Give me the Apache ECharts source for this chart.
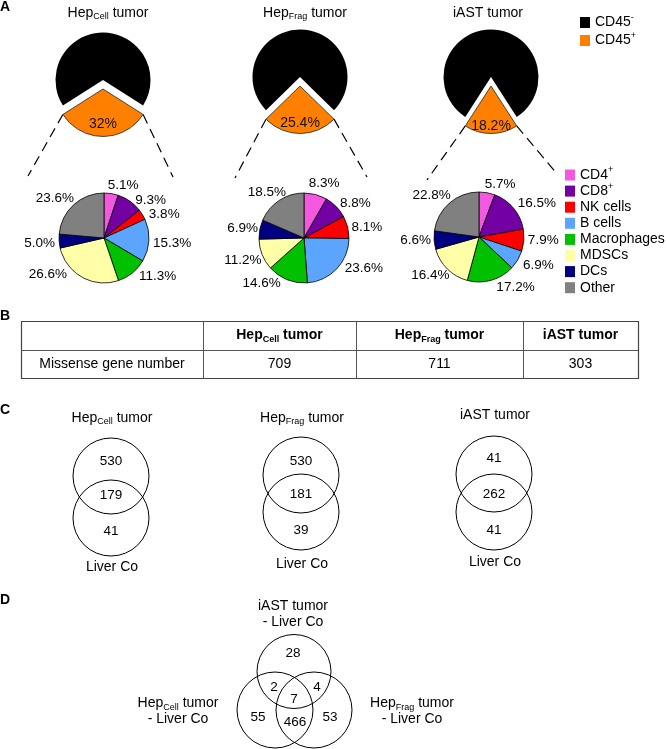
<!DOCTYPE html>
<html>
<head>
<meta charset="utf-8">
<script src="https://cdn.jsdelivr.net/npm/echarts@6.0.0/dist/echarts.min.js"></script>
<style>
html, body { margin: 0; padding: 0; background: #fff; }
#chart { width: 667px; height: 749px; }
</style>
</head>
<body>
<div id="chart"></div>
<script>
// ---- panel A: immune infiltrate (percent)
const cd45Names = ['CD45-', 'CD45+'];
const cd45Neg = [68, 74.6, 81.8];
const cd45Pos = [32, 25.4, 18.2];
const cellTypes = ['CD4+', 'CD8+', 'NK cells', 'B cells', 'Macrophages', 'MDSCs', 'DCs', 'Other'];
const hepCellCells = [5.1, 9.3, 3.8, 15.3, 11.3, 26.6, 5.0, 23.6];
const hepFragCells = [8.3, 8.8, 8.1, 23.6, 14.6, 11.2, 6.9, 18.5];
const iastCells = [5.7, 16.5, 7.9, 6.9, 17.2, 16.4, 6.6, 22.8];
const tumorTitles = ['Hep{sub|Cell} tumor', 'Hep{sub|Frag} tumor', 'iAST tumor'];

// ---- panel B: table
const tableCols = ['Hep{bsub|Cell} tumor', 'Hep{bsub|Frag} tumor', 'iAST tumor'];
const tableRowName = 'Missense gene number';
const missenseCounts = [709, 711, 303];

// ---- panel C: [tumor only, shared, liver co only]
const vennHepCell = [530, 179, 41];
const vennHepFrag = [530, 181, 39];
const vennIast = [41, 262, 41];
const vennCBottom = 'Liver Co';

// ---- panel D: iAST only, iAST&Cell, iAST&Frag, all, Cell only, Cell&Frag, Frag only
const vennDSets = ['iAST tumor\n- Liver Co', 'Hep{sub|Cell} tumor\n- Liver Co', 'Hep{sub|Frag} tumor\n- Liver Co'];
const vennDValues = [28, 2, 4, 7, 55, 466, 53];

// ---- layout / style
const FONT = 'Arial, "Liberation Sans", Helvetica, sans-serif';
const ORANGE = '#FF8000';
const cellColors = ['#F558E0', '#7300A3', '#FF0000', '#5CA5FF', '#00C000', '#FFFFA8', '#000080', '#808080'];
const topCenters = [[103, 80], [300, 77], [491, 77]];
const topR = 47.5, topOffset = 9;
const topLabelDy = [8, 10.5, 13];
const botCenters = [[104, 238], [304, 238], [479, 237]];
const botR = 45;
// small label nudges so the outside labels sit where the original ones do
const labelNudge = [
    [[-5, -4], [2, 2], [2, 2], [-1, 3], [3, 0], [-12, -7], [1, 2], [4, -4]],
    [[-9, -7], [0, -1], [-1, 1], [4, -3], [-4, 0], [4, 4], [3, 0], [10, -5]],
    [[-4, -5], [0, -2], [-1, 0], [1, 3], [3, 3], [6, 3], [2, 0], [5, -5]]
];
const titleX = [108, 305, 488];
const connEnds = [[[28, 176], [173, 177]], [[235, 178], [367, 177]], [[427, 180], [558, 175]]];

const RICH = {
    sub: { fontSize: 9, lineHeight: 14, height: 6, verticalAlign: 'bottom', fontFamily: FONT, fill: '#000' },
    bsub: { fontSize: 9, lineHeight: 14, height: 6, verticalAlign: 'bottom', fontFamily: FONT, fontWeight: 'bold', fill: '#000' }
};
const SUP = { sup: { fontSize: 9, lineHeight: 14, height: 4, verticalAlign: 'top', fontFamily: FONT, color: '#000' } };

function txt(x, y, text, extra) {
    return {
        type: 'text', x: x, y: y, silent: true,
        style: Object.assign({
            text: text, fontSize: 14, lineHeight: 14, fontFamily: FONT, fill: '#000',
            align: 'center', verticalAlign: 'middle', rich: RICH
        }, extra || {})
    };
}
function line(x1, y1, x2, y2, extra) {
    return {
        type: 'line', silent: true,
        shape: { x1: x1, y1: y1, x2: x2, y2: y2 },
        style: Object.assign({ stroke: '#000', lineWidth: 1 }, extra || {})
    };
}
function circle(cx, cy, r) {
    return { type: 'circle', silent: true, shape: { cx: cx, cy: cy, r: r },
             style: { fill: 'none', stroke: '#000', lineWidth: 1 } };
}
// every legend entry gets a sup token so all rows have the same height
function supName(name) {
    return /[+-]$/.test(name) ? name.replace(/([+-])$/, '{sup|$1}') : name + '{sup| }';
}

const series = [];
cd45Pos.forEach(function (p, i) {
    series.push({
        type: 'pie', center: topCenters[i], radius: topR,
        startAngle: -90 + p * 1.8, clockwise: true,
        selectedMode: 'single', selectedOffset: topOffset,
        label: { show: false }, labelLine: { show: false },
        labelLayout: function () { return { dy: topLabelDy[i], hideOverlap: false }; },
        emphasis: { disabled: true },
        data: [
            { name: cd45Names[1], value: p, selected: true,
              itemStyle: { color: ORANGE, borderColor: '#222', borderWidth: 0.8 },
              label: { show: true, position: 'inside', formatter: '{c}%', fontSize: 14,
                       color: '#111', fontFamily: FONT } },
            { name: cd45Names[0], value: cd45Neg[i], itemStyle: { color: '#000', borderWidth: 0 } }
        ]
    });
});
[hepCellCells, hepFragCells, iastCells].forEach(function (vals, i) {
    series.push({
        type: 'pie', center: botCenters[i], radius: botR, startAngle: 90, clockwise: true,
        avoidLabelOverlap: false,
        itemStyle: { borderColor: '#000', borderWidth: 0.8 },
        label: { show: true, position: 'outside', fontSize: 13.5, color: '#000', fontFamily: FONT,
                 distanceToLabelLine: 1,
                 formatter: function (d) { return d.value.toFixed(1) + '%'; } },
        labelLine: { show: false, length: 4, length2: 0 },
        labelLayout: function (params) {
            const n = labelNudge[i][params.dataIndex];
            return { dx: n[0], dy: n[1], hideOverlap: false };
        },
        emphasis: { disabled: true },
        data: cellTypes.map(function (n, k) {
            return { name: n, value: vals[k], itemStyle: { color: cellColors[k] } };
        })
    });
});

const graphic = [];
// panel letters
[['A', 7], ['B', 316], ['C', 410], ['D', 600]].forEach(function (l) {
    graphic.push(txt(0, l[1], l[0], { align: 'left', fontWeight: 'bold' }));
});
// panel A titles and connector lines
tumorTitles.forEach(function (t, i) { graphic.push(txt(titleX[i], 13, t)); });
cd45Pos.forEach(function (p, i) {
    const half = p * 1.8 * Math.PI / 180;
    const c = topCenters[i];
    const yc = c[1] + topOffset + topR * Math.cos(half);
    const dx = topR * Math.sin(half);
    graphic.push(line(c[0] - dx, yc, connEnds[i][0][0], connEnds[i][0][1], { lineDash: [10, 6], lineWidth: 1.2 }));
    graphic.push(line(c[0] + dx, yc, connEnds[i][1][0], connEnds[i][1][1], { lineDash: [10, 6], lineWidth: 1.2 }));
});

// panel B table
const colX = [21, 203, 356, 523, 638];
const rowY = [321, 350, 378];
graphic.push({ type: 'rect', silent: true,
    shape: { x: colX[0] + 0.5, y: rowY[0] + 0.5, width: colX[4] - colX[0], height: rowY[2] - rowY[0] },
    style: { fill: 'none', stroke: '#444', lineWidth: 1.2 } });
graphic.push(line(colX[0], rowY[1] + 0.5, colX[4], rowY[1] + 0.5, { stroke: '#555' }));
for (let k = 1; k < 4; k++) graphic.push(line(colX[k] + 0.5, rowY[0], colX[k] + 0.5, rowY[2], { stroke: '#555' }));
graphic.push(txt((colX[0] + colX[1]) / 2, (rowY[1] + rowY[2]) / 2, tableRowName));
tableCols.forEach(function (h, k) {
    const cx = (colX[k + 1] + colX[k + 2]) / 2;
    graphic.push(txt(cx, (rowY[0] + rowY[1]) / 2, h, { fontWeight: 'bold' }));
    graphic.push(txt(cx, (rowY[1] + rowY[2]) / 2, String(missenseCounts[k])));
});

// panel C venns
const vennCx = [111, 301, 494];
const vennTopCy = [476, 475, 474];
const vennBotCy = [518, 512, 512];
const vennR = 38;
const vennNumY = [[461, 495, 531], [461, 494, 530], [458, 494, 530]];
const vennTitleY = [418, 418, 415];
const vennBottomY = [567, 564, 562];
[vennHepCell, vennHepFrag, vennIast].forEach(function (v, i) {
    graphic.push(circle(vennCx[i], vennTopCy[i], vennR));
    graphic.push(circle(vennCx[i], vennBotCy[i], vennR));
    v.forEach(function (n, k) { graphic.push(txt(vennCx[i], vennNumY[i][k], String(n), { fontSize: 13.5 })); });
    graphic.push(txt(vennCx[i] + 1, vennTitleY[i], tumorTitles[i]));
    graphic.push(txt(vennCx[i] + 1, vennBottomY[i], vennCBottom));
});

// panel D venn
const dCircles = [[294, 671.5, 37], [275, 710, 38], [314, 710, 38]];
dCircles.forEach(function (c) { graphic.push(circle(c[0], c[1], c[2])); });
const dNumPos = [[293, 653], [274, 687], [317, 687], [294, 699], [258, 717], [295, 722], [330, 717]];
vennDValues.forEach(function (n, k) { graphic.push(txt(dNumPos[k][0], dNumPos[k][1], String(n), { fontSize: 13.5 })); });
const dLabelPos = [[293, 614], [178, 711], [412, 711]];
vennDSets.forEach(function (t, k) {
    graphic.push(txt(dLabelPos[k][0], dLabelPos[k][1], t, { lineHeight: 16.5 }));
});

const legendText = { fontSize: 14, lineHeight: 14, color: '#000', fontFamily: FONT, rich: SUP };
const chart = echarts.init(document.getElementById('chart'), null, { renderer: 'canvas' });
chart.setOption({
    animation: false,
    backgroundColor: '#fff',
    textStyle: { fontFamily: FONT },
    legend: [
        { data: cd45Names, orient: 'vertical', left: 580, top: 13, padding: 0, icon: 'rect',
          itemWidth: 10, itemHeight: 11, itemGap: 1.5, selectedMode: false,
          itemStyle: { borderWidth: 0 }, formatter: supName, textStyle: legendText },
        { data: cellTypes, orient: 'vertical', left: 565, top: 165.5, padding: 0, icon: 'rect',
          itemWidth: 10, itemHeight: 11, itemGap: -0.4, selectedMode: false,
          itemStyle: { borderWidth: 0 }, formatter: supName, textStyle: legendText }
    ],
    series: series,
    graphic: graphic
});
</script>
</body>
</html>
